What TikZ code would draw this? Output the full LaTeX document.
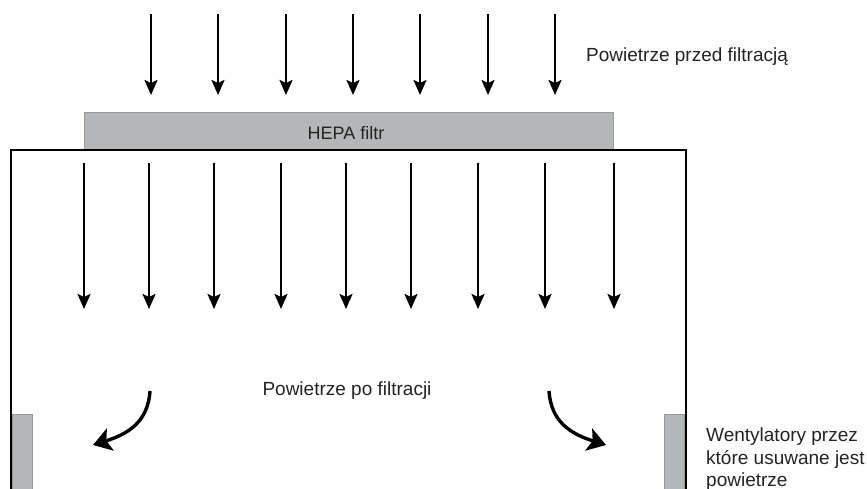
\documentclass[tikz,border=0pt]{standalone}
\usepackage{fontspec}
\setmainfont{Liberation Sans}
\usetikzlibrary{arrows.meta}
\definecolor{filtgray}{RGB}{180,183,183}
\definecolor{txtgray}{RGB}{35,35,35}
\tikzset{
  flow/.style={line width=2.3pt, -{Stealth[length=15pt,width=13pt,inset=3pt]}},
  curved/.style={line width=3.4pt, -{Stealth[length=18pt,width=23pt,inset=4pt]}},
  graybox/.style={fill=filtgray, draw=gray!80, line width=0.6pt},
  lbl/.style={font=\fontsize{19}{22.5}\selectfont, text=txtgray, inner sep=0pt},
}
\begin{document}
\begin{tikzpicture}[x=1pt,y=-1pt]
\useasboundingbox (0,0) rectangle (867,489);
\begin{scope}
\clip (0,0) rectangle (867,489);
% filter
\node[graybox, minimum width=529pt, minimum height=38pt, anchor=north west, inner sep=0pt] (hepa) at (84,112) {};
\node[lbl, font=\fontsize{18}{20}\selectfont, anchor=base] (hepalbl) at (346,140) {HEPA filtr};
% room
\coordinate (bl) at (11,495);
\coordinate (tl) at (11,150);
\coordinate (tr) at (686,150);
\coordinate (br) at (686,495);
\draw[line width=2.2pt] (bl) -- (tl) -- (tr) -- (br);
% fans
\node[graybox, minimum width=20pt, minimum height=90pt, anchor=north west, inner sep=0pt] (fanL) at (12,414) {};
\node[graybox, minimum width=20pt, minimum height=90pt, anchor=north west, inner sep=0pt] (fanR) at (664,414) {};
% fan label
\node[lbl, anchor=north west, align=left] (fans) at (706,428) {Wentylatory przez\\które usuwane jest\\powietrze};
\end{scope}
% top arrows
\foreach \i/\x in {1/151,2/218,3/286,4/353,5/420,6/488,7/555}{
  \coordinate (ta\i) at (\x,14);
  \coordinate (tb\i) at (\x,95);
  \draw[flow] (ta\i) -- (tb\i);
}
% inner arrows
\foreach \i/\x in {1/84,2/149,3/214,4/281,5/346,6/411,7/478,8/545,9/614}{
  \coordinate (ia\i) at (\x,163);
  \coordinate (ib\i) at (\x,309);
  \draw[flow] (ia\i) -- (ib\i);
}
% curved arrows
\coordinate (cl1) at (150,391);
\coordinate (cl2) at (93,445);
\draw[curved] (cl1) .. controls (148,422) and (128,434) .. (cl2);
\coordinate (cr1) at (549,391);
\coordinate (cr2) at (606,445);
\draw[curved] (cr1) .. controls (551,422) and (571,434) .. (cr2);
% labels
\node[lbl, anchor=base west] (before) at (586,62) {Powietrze przed filtracją};
\node[lbl, anchor=base] (after) at (347,395) {Powietrze po filtracji};
\end{tikzpicture}
\end{document}
